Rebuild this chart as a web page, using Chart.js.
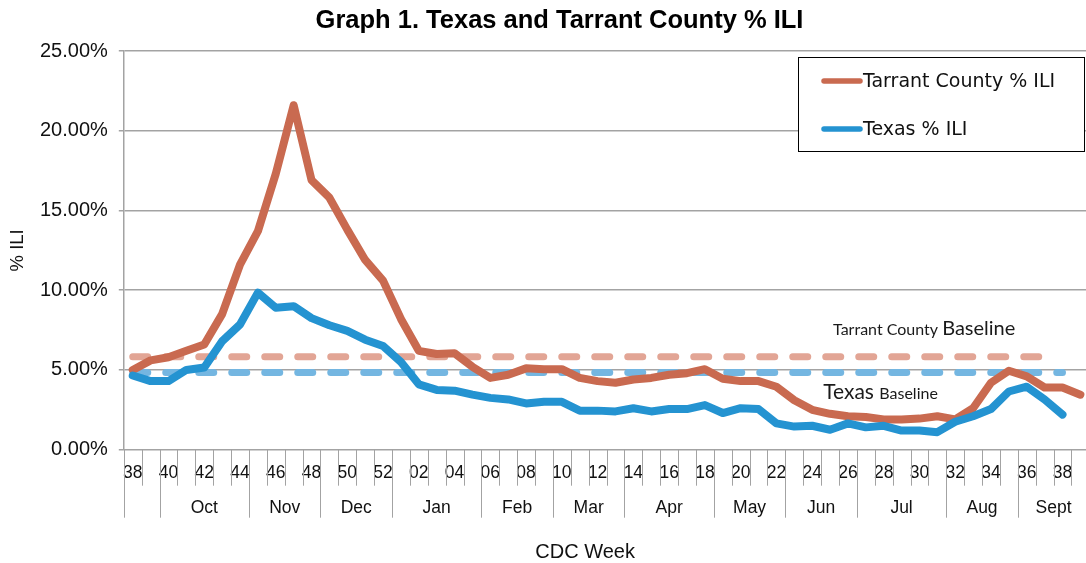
<!DOCTYPE html>
<html><head><meta charset="utf-8">
<script src="https://cdn.jsdelivr.net/npm/chart.js@4.4.1/dist/chart.umd.min.js"></script>
<style>html,body{margin:0;padding:0;background:#fff;overflow:hidden;}#wrap{width:1120px;height:563px;}</style>
</head><body><div id="wrap"><canvas id="c" width="1120" height="563"></canvas></div>
<script>
// ---- data ----
const chartTitle = 'Graph 1. Texas and Tarrant County % ILI';
const weeks = ['38','39','40','41','42','43','44','45','46','47','48','49','50','51','52',
  '01','02','03','04','05','06','07','08','09','10','11','12','13','14','15','16','17','18','19','20',
  '21','22','23','24','25','26','27','28','29','30','31','32','33','34','35','36','37','38','39'];
const tarrant = [5.0,5.6,5.8,6.2,6.6,8.5,11.6,13.7,17.3,21.6,16.9,15.8,13.8,11.9,10.6,
  8.2,6.2,6.0,6.05,5.2,4.5,4.7,5.1,5.05,5.05,4.5,4.3,4.2,4.4,4.5,4.7,4.8,5.05,4.45,4.3,
  4.3,3.95,3.1,2.5,2.25,2.1,2.05,1.9,1.9,1.95,2.1,1.9,2.6,4.2,4.95,4.6,3.9,3.9,3.45];
const texas = [4.65,4.3,4.3,5.0,5.15,6.8,7.85,9.85,8.9,9.0,8.25,7.8,7.45,6.9,6.5,
  5.5,4.1,3.75,3.7,3.45,3.25,3.15,2.9,3.0,3.0,2.45,2.45,2.4,2.6,2.4,2.55,2.55,2.8,2.3,2.6,
  2.55,1.65,1.45,1.5,1.25,1.65,1.4,1.5,1.2,1.2,1.1,1.75,2.1,2.55,3.65,3.95,3.15,2.2,null];
const tarrantBaseline = 5.83;   // drawn through week index 51
const texasBaseline = 4.84;     // drawn through week index 52
const tarrantBaselineLast = 51;
const texasBaselineLast = 52;
const months = ['', 'Oct','Nov','Dec','Jan','Feb','Mar','Apr','May','Jun','Jul','Aug','Sept'];
const monthStart = [0,2,7,11,15,20,24,28,33,37,41,46,50];
const yTickValues = [0,5,10,15,20,25];

const tarrantColor = '#C96A50';
const texasColor = '#2493D1';
const gridColor = '#a3a3a3';

const tarrantBase = weeks.map((w,i)=> i<=tarrantBaselineLast ? tarrantBaseline : null);
const texasBase = weeks.map((w,i)=> i<=texasBaselineLast ? texasBaseline : null);

const decor = {
  id:'decor',
  afterDraw(chart){
    const {ctx, chartArea:a, scales:{x,y}} = chart;
    const half = (x.getPixelForValue(1)-x.getPixelForValue(0))/2;
    ctx.save();
    // title
    ctx.fillStyle='#000'; ctx.font='bold 25.5px "Liberation Sans", Arial, sans-serif';
    ctx.textAlign='center'; ctx.textBaseline='middle';
    ctx.fillText(chartTitle, 559.5, 21);
    // category tick lines & month separators
    ctx.strokeStyle = gridColor; ctx.lineWidth = 1;
    for(let i=0;i<=weeks.length;i++){
      const raw = i<weeks.length ? x.getPixelForValue(i)-half : x.getPixelForValue(weeks.length-1)+half;
      const px = Math.round(raw)+0.5;
      const isMonth = monthStart.includes(i) || i===weeks.length;
      ctx.beginPath(); ctx.moveTo(px,a.bottom); ctx.lineTo(px,a.bottom+(isMonth?68:36)); ctx.stroke();
    }
    // month labels
    ctx.fillStyle='#111'; ctx.font='17.5px "Liberation Sans", Arial, sans-serif';
    monthStart.forEach((s,j)=>{
      const e = (j+1<monthStart.length ? monthStart[j+1] : weeks.length) - 1;
      const cx = (x.getPixelForValue(s)+x.getPixelForValue(e))/2;
      if (months[j]) ctx.fillText(months[j], cx, a.bottom+58);
    });
    // x axis title
    ctx.font='20px "Liberation Sans", Arial, sans-serif';
    ctx.fillText('CDC Week', x.getPixelForValue(25.3), 552);
    // baseline annotations
    ctx.textAlign='left'; ctx.textBaseline='alphabetic'; ctx.fillStyle='#1a1a1a';
    let tx = x.getPixelForValue(39)+3, ty = y.getPixelForValue(7.22);
    ctx.font='16px Lato, sans-serif'; ctx.fillText('Tarrant County ', tx, ty);
    let w = ctx.measureText('Tarrant County ').width;
    ctx.font='20px Lato, sans-serif'; ctx.fillText('Baseline', tx+w, ty);
    tx = x.getPixelForValue(38)+11; ty = y.getPixelForValue(3.2);
    ctx.font='21px Lato, sans-serif'; ctx.fillText('Texas ', tx, ty);
    w = ctx.measureText('Texas ').width;
    ctx.font='16px Lato, sans-serif'; ctx.fillText('Baseline', tx+w, ty);
    // legend box
    const lx=798.5, ly=57.5, lw=286, lh=94;
    ctx.fillStyle='#fff'; ctx.fillRect(lx,ly,lw,lh);
    ctx.strokeStyle='#000'; ctx.lineWidth=1; ctx.strokeRect(lx,ly,lw,lh);
    const items=[[chart.data.datasets[0], 81],[chart.data.datasets[1], 129]];
    ctx.font='19px "DejaVu Sans", Verdana, sans-serif'; ctx.textBaseline='middle';
    items.forEach(([ds,yy])=>{
      ctx.strokeStyle=ds.borderColor; ctx.lineWidth=5.5; ctx.lineCap='round';
      ctx.beginPath(); ctx.moveTo(824,yy); ctx.lineTo(860,yy); ctx.stroke();
      ctx.fillStyle='#111'; ctx.fillText(ds.label, 863, yy+1);
    });
    ctx.restore();
  }
};

new Chart(document.getElementById('c'), {
  type:'line',
  data:{
    labels: weeks,
    datasets:[
      {label:'Tarrant County % ILI', data:tarrant, borderColor:tarrantColor, backgroundColor:tarrantColor,
       borderWidth:8, pointRadius:0, tension:0, borderJoinStyle:'round', borderCapStyle:'round', order:1},
      {label:'Texas % ILI', data:texas, borderColor:texasColor, backgroundColor:texasColor,
       borderWidth:8, pointRadius:0, tension:0, borderJoinStyle:'round', borderCapStyle:'round', order:0},
      {label:'Tarrant County Baseline', data:tarrantBase, borderColor:'#E2A595',
       borderWidth:7, borderDash:[15,18], pointRadius:0, borderCapStyle:'round', order:3},
      {label:'Texas Baseline', data:texasBase, borderColor:'#74B6E1',
       borderWidth:7, borderDash:[15,18], pointRadius:0, borderCapStyle:'round', order:2}
    ]
  },
  options:{
    responsive:false, animation:false, devicePixelRatio:1,
    layout:{padding:{left:0,right:30.7,top:51,bottom:0}},
    plugins:{
      legend:{display:false}, tooltip:{enabled:false}, title:{display:false}
    },
    scales:{
      x:{
        type:'category', offset:true,
        grid:{display:false, drawTicks:false, offset:true},
        border:{display:true, color:gridColor, width:1},
        ticks:{autoSkip:false, maxRotation:0, padding:13, color:'#111',
          font:{family:'"Liberation Sans", Arial, sans-serif', size:17.5},
          callback:(v,i)=> i%2===0 ? weeks[i] : ''},
        afterFit:(s)=>{ s.height = 113.3; }
      },
      y:{
        min:0, max:25,
        afterBuildTicks:(s)=>{ s.ticks = yTickValues.map(v=>({value:v})); },
        grid:{color:gridColor, lineWidth:1.5, tickLength:5, drawTicks:true},
        border:{display:true, color:gridColor, width:1.5},
        ticks:{padding:11, color:'#111', font:{family:'"Liberation Sans", Arial, sans-serif', size:20},
          callback:(v)=> v.toFixed(2)+'%'},
        title:{display:true, text:'% ILI', color:'#111', font:{family:'"Liberation Sans", Arial, sans-serif', size:18.5, lineHeight:1.2},
          padding:{top:7,bottom:0}},
        afterFit:(s)=>{ s.width = 123.8; }
      }
    }
  },
  plugins:[decor]
});
</script></body></html>
